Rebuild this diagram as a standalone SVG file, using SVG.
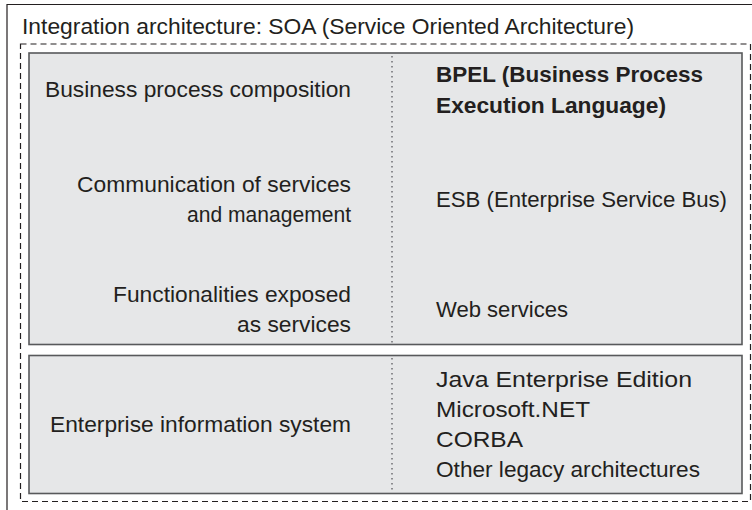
<svg xmlns="http://www.w3.org/2000/svg" width="752" height="510" viewBox="0 0 752 510">
  <style>
    text { font-family: "Liberation Sans", Arial, sans-serif; font-size: 22px; fill: #231f20; }
    .r { text-anchor: end; }
    .b { font-weight: bold; }
    .layer { fill: #e6e7e8; stroke: #58595b; stroke-width: 1.6; }
    .frame { fill: none; stroke: #231f20; stroke-width: 1.2; }
    .dash { fill: none; stroke: #231f20; stroke-width: 1.2; stroke-dasharray: 6 4; }
    .div { stroke: #6d6e71; stroke-width: 1.5; stroke-dasharray: 1.5 3.5; }
  </style>
  <rect width="752" height="510" fill="#ffffff"/>

  <!-- outer frame, open to the right and bottom -->
  <path class="frame" d="M7 510 V4.5 H752"/>
  <text x="22" y="34" textLength="612" lengthAdjust="spacingAndGlyphs">Integration architecture: SOA (Service Oriented Architecture)</text>

  <!-- dashed SOA boundary -->
  <rect class="dash" x="20.5" y="44" width="730" height="457.5"/>

  <!-- upper layer: SOA stack -->
  <g id="soa-layer">
    <rect class="layer" x="29" y="53" width="713" height="291.5"/>
    <g id="composition">
      <text class="r" x="351" y="97" textLength="306" lengthAdjust="spacingAndGlyphs">Business process composition</text>
      <text class="b" x="436" y="82" textLength="267" lengthAdjust="spacingAndGlyphs">BPEL (Business Process</text>
      <text class="b" x="436" y="113" textLength="230" lengthAdjust="spacingAndGlyphs">Execution Language)</text>
    </g>
    <g id="communication">
      <text class="r" x="351" y="192" textLength="274" lengthAdjust="spacingAndGlyphs">Communication of services</text>
      <text class="r" x="351" y="222" textLength="164" lengthAdjust="spacingAndGlyphs">and management</text>
      <text x="436" y="207" textLength="291" lengthAdjust="spacingAndGlyphs">ESB (Enterprise Service Bus)</text>
    </g>
    <g id="functionalities">
      <text class="r" x="351" y="302" textLength="238" lengthAdjust="spacingAndGlyphs">Functionalities exposed</text>
      <text class="r" x="351" y="332" textLength="114" lengthAdjust="spacingAndGlyphs">as services</text>
      <text x="436" y="317" textLength="132" lengthAdjust="spacingAndGlyphs">Web services</text>
    </g>
  </g>

  <!-- lower layer: enterprise information system -->
  <g id="eis-layer">
    <rect class="layer" x="29" y="355.5" width="713" height="138"/>
    <text class="r" x="351" y="432" textLength="301" lengthAdjust="spacingAndGlyphs">Enterprise information system</text>
    <text x="436" y="387" textLength="256" lengthAdjust="spacingAndGlyphs">Java Enterprise Edition</text>
    <text x="436" y="417" textLength="154" lengthAdjust="spacingAndGlyphs">Microsoft.NET</text>
    <text x="436" y="447" textLength="87" lengthAdjust="spacingAndGlyphs">CORBA</text>
    <text x="436" y="477" textLength="264" lengthAdjust="spacingAndGlyphs">Other legacy architectures</text>
  </g>

  <!-- column dividers -->
  <g id="connectors">
    <line class="div" x1="392" y1="56" x2="392" y2="343"/>
    <line class="div" x1="392" y1="358" x2="392" y2="492"/>
  </g>
</svg>
